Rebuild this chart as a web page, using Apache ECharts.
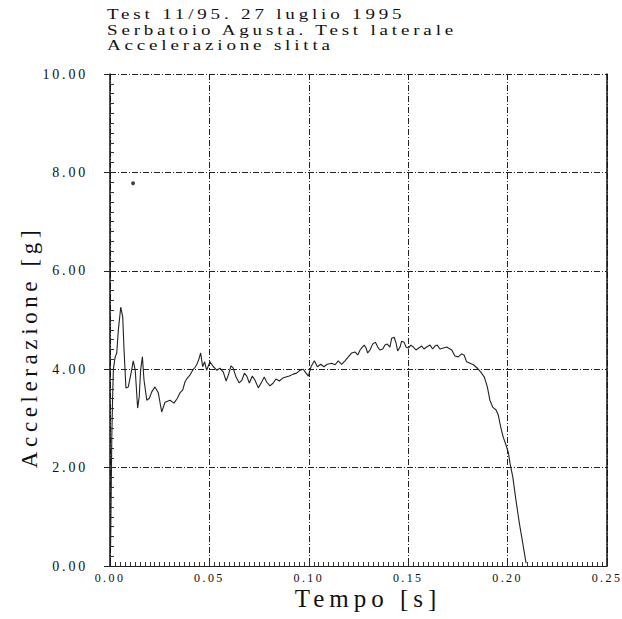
<!DOCTYPE html>
<html><head><meta charset="utf-8">
<script src="https://cdn.jsdelivr.net/npm/echarts@6/dist/echarts.min.js"></script>
<style>
html,body{margin:0;padding:0;background:#fff;}
#chart{width:622px;height:619px;}
#chart text{letter-spacing:0.2em;}
</style></head><body><div id="chart"></div>
<script>
const titleLines = ['Test 11/95. 27 luglio 1995', 'Serbatoio Agusta. Test laterale', 'Accelerazione slitta'];
const xName = 'Tempo [s]';
const yName = 'Accelerazione [g]';

const timeS = [
  0.0003, 0.0006, 0.0009, 0.0013, 0.0017, 0.0026, 0.0034, 0.0042, 0.0054, 0.0064,
  0.0070, 0.0080, 0.0092, 0.0106, 0.0117, 0.0127, 0.0139, 0.0147, 0.0154, 0.0163,
  0.0171, 0.0185, 0.0198, 0.0210, 0.0226, 0.0243, 0.0260, 0.0277, 0.0302, 0.0322,
  0.0339, 0.0352, 0.0366, 0.0377, 0.0389, 0.0402, 0.0416, 0.0428, 0.0436, 0.0446,
  0.0456, 0.0466, 0.0476, 0.0486, 0.0503, 0.0520, 0.0537, 0.0553, 0.0570, 0.0584,
  0.0595, 0.0609, 0.0620, 0.0634, 0.0650, 0.0664, 0.0676, 0.0688, 0.0701, 0.0716,
  0.0729, 0.0746, 0.0763, 0.0776, 0.0788, 0.0805, 0.0821, 0.0835, 0.0852, 0.0869,
  0.0885, 0.0902, 0.0922, 0.0939, 0.0956, 0.0972, 0.0986, 0.0998, 0.1011, 0.1028,
  0.1043, 0.1060, 0.1076, 0.1093, 0.1115, 0.1132, 0.1148, 0.1165, 0.1182, 0.1199,
  0.1216, 0.1232, 0.1246, 0.1258, 0.1269, 0.1279, 0.1288, 0.1296, 0.1308, 0.1321,
  0.1335, 0.1347, 0.1358, 0.1372, 0.1383, 0.1395, 0.1408, 0.1417, 0.1429, 0.1439,
  0.1447, 0.1459, 0.1467, 0.1479, 0.1489, 0.1501, 0.1513, 0.1526, 0.1539, 0.1553,
  0.1568, 0.1579, 0.1593, 0.1610, 0.1623, 0.1635, 0.1646, 0.1660, 0.1677, 0.1694,
  0.1702, 0.1719, 0.1735, 0.1752, 0.1769, 0.1781, 0.1794, 0.1811, 0.1828, 0.1848,
  0.1865, 0.1883, 0.1898, 0.1911, 0.1925, 0.1942, 0.1953, 0.1965, 0.1978, 0.1992,
  0.2004, 0.2012, 0.2026, 0.2042, 0.2059, 0.2076, 0.2093
];
const accelG = [
  0.40, 1.50, 2.60, 3.40, 4.00, 4.25, 4.33, 4.80, 5.26, 5.06,
  4.45, 3.62, 3.64, 3.92, 4.17, 3.98, 3.21, 3.44, 3.98, 4.25,
  3.78, 3.37, 3.41, 3.54, 3.64, 3.52, 3.13, 3.33, 3.37, 3.31,
  3.41, 3.52, 3.58, 3.74, 3.82, 3.88, 3.98, 4.04, 4.09, 4.19,
  4.33, 4.05, 4.15, 3.98, 4.15, 4.05, 3.98, 4.02, 3.94, 3.76,
  3.88, 4.07, 4.02, 3.84, 3.72, 3.78, 3.92, 3.86, 3.72, 3.86,
  3.78, 3.62, 3.74, 3.84, 3.74, 3.66, 3.72, 3.80, 3.76, 3.82,
  3.84, 3.86, 3.90, 3.92, 3.98, 4.00, 3.92, 3.86, 4.05, 4.17,
  4.05, 4.10, 4.05, 4.10, 4.12, 4.09, 4.17, 4.10, 4.17, 4.25,
  4.33, 4.35, 4.29, 4.39, 4.45, 4.49, 4.43, 4.33, 4.39, 4.51,
  4.55, 4.45, 4.39, 4.41, 4.49, 4.51, 4.45, 4.63, 4.65, 4.53,
  4.37, 4.45, 4.57, 4.55, 4.45, 4.43, 4.49, 4.45, 4.39, 4.43,
  4.47, 4.41, 4.45, 4.49, 4.41, 4.47, 4.49, 4.41, 4.43, 4.45,
  4.43, 4.39, 4.27, 4.25, 4.31, 4.29, 4.15, 4.12, 4.09, 4.02,
  3.94, 3.84, 3.64, 3.37, 3.23, 3.17, 3.07, 2.83, 2.62, 2.46,
  2.30, 2.09, 1.81, 1.34, 0.87, 0.47, 0.06
];
const strayTime = [0.0116];
const strayAccel = [7.78];

const xMin = 0, xMax = 0.25, xStep = 0.05;
const yMin = 0, yMax = 10, yStep = 2;

const lineData = timeS.map((t, i) => [t, accelG[i]]);
const strayData = strayTime.map((t, i) => [t, strayAccel[i]]);

const FONT = 'Liberation Serif';
const gridStyle = { color: '#222', width: 1, type: [6, 2, 1, 2] };

function titleText(txt, y) {
  return {
    type: 'text', x: 107, y: y, scaleX: 1.27,
    style: { text: txt, font: '15px ' + FONT, fill: '#111', align: 'left', verticalAlign: 'top' }
  };
}

const chart = echarts.init(document.getElementById('chart'), null, { renderer: 'svg' });
chart.setOption({
  backgroundColor: '#fff',
  animation: false,
  graphic: [
    titleText(titleLines[0], 7),
    titleText(titleLines[1], 22.5),
    titleText(titleLines[2], 38),
  {
    type: 'text', x: 29, y: 347, rotation: Math.PI / 2,
    style: { text: yName, font: '23px ' + FONT, fill: '#111', align: 'center', verticalAlign: 'middle' }
  }, {
    type: 'text', x: 368, y: 598,
    style: { text: xName, font: '25px ' + FONT, fill: '#111', align: 'center', verticalAlign: 'middle' }
  }],
  grid: { left: 110, right: 15, top: 74, bottom: 53 },
  xAxis: {
    type: 'value', min: xMin, max: xMax, interval: xStep,
    axisLine: { show: true, lineStyle: { color: '#222', width: 1 } },
    axisTick: { show: true, inside: true, length: 6, lineStyle: { color: '#222' } },
    minorTick: { show: true, splitNumber: 20, length: 4, lineStyle: { color: '#333' } },
    axisLabel: { fontFamily: FONT, fontSize: 12, color: '#111', margin: 6, formatter: v => v.toFixed(2) },
    splitLine: { show: true, lineStyle: gridStyle }
  },
  yAxis: [{
    type: 'value', min: yMin, max: yMax, interval: yStep,
    axisLine: { show: true, lineStyle: { color: '#111', width: 1.5 } },
    axisTick: { show: true, inside: true, length: 6, lineStyle: { color: '#222' } },
    minorTick: { show: true, splitNumber: 10, length: 4, lineStyle: { color: '#333' } },
    axisLabel: { fontFamily: FONT, fontSize: 14, color: '#111', margin: 22, formatter: v => v.toFixed(2) },
    splitLine: { show: true, lineStyle: gridStyle }
  }, {
    type: 'value', min: yMin, max: yMax, interval: yStep, position: 'left',
    axisLine: { show: false },
    axisTick: { show: true, inside: false, length: 6, lineStyle: { color: '#222' } },
    axisLabel: { show: false }, splitLine: { show: false }
  }, {
    type: 'value', min: yMin, max: yMax, interval: yStep, position: 'right',
    axisLine: { show: true, lineStyle: { color: '#111', width: 1.5 } },
    axisTick: { show: false }, axisLabel: { show: false }, splitLine: { show: false }
  }],
  series: [{
    type: 'line', data: lineData, showSymbol: false, smooth: false,
    lineStyle: { color: '#222', width: 1.1 }, z: 3
  }, {
    type: 'scatter', data: strayData, symbolSize: 4, itemStyle: { color: '#111' }, z: 3
  }]
});
</script></body></html>
